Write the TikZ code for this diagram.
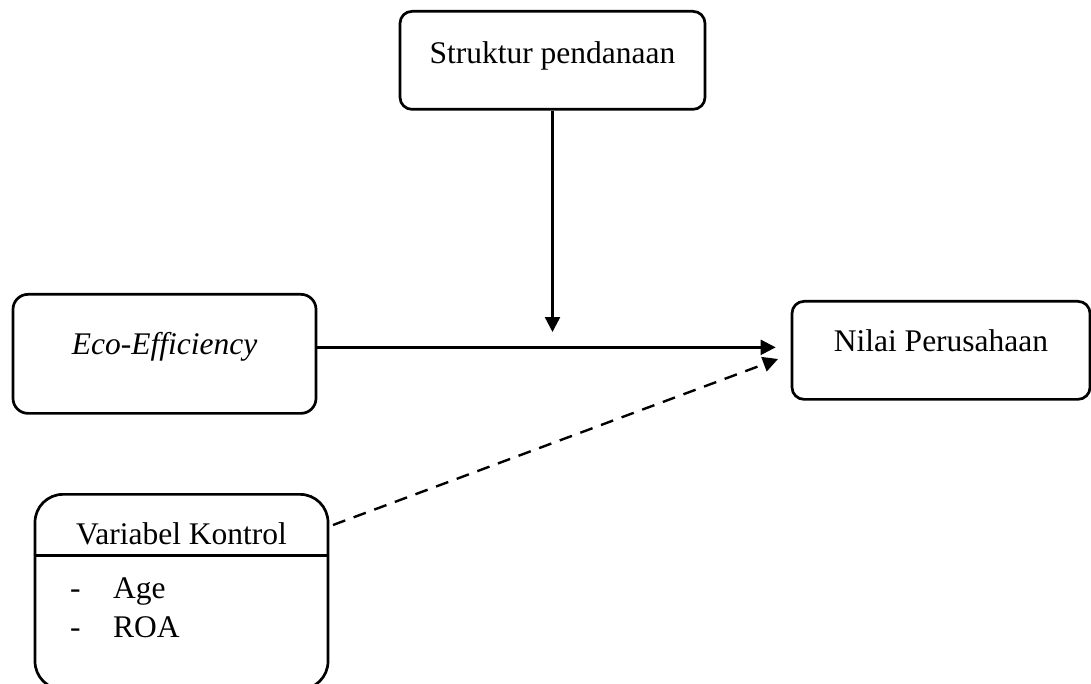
\documentclass[tikz,border=0pt]{standalone}
\usepackage{fontspec}
\setmainfont{Liberation Serif}
\usepackage{tikz}
\usetikzlibrary{arrows.meta,positioning,calc}

\begin{document}
\begin{tikzpicture}[x=1pt,y=-1pt]

	\tikzset{
	var box/.style={draw, rounded corners=12pt, line width=2.7pt, inner xsep=0pt, inner ysep=0pt,
		font=\fontsize{31.5}{39}\selectfont, anchor=north},
	item/.style={inner sep=0pt, anchor=base west, font=\fontsize{31.5}{39}\selectfont},
	link/.style={line width=2.4pt, >={Triangle[length=15pt,width=15pt]}}
}

\useasboundingbox (0,0) rectangle (1091,684);
\clip (0,0) rectangle (1091,684);

% boxes
\node[var box, minimum width=305pt, text height=52pt, text depth=46pt] (struktur) at (552.5,10) {Struktur pendanaan};
\node[var box, rounded corners=15pt, minimum width=303pt, text height=60pt, text depth=59pt] (eco) at (164.5,293) {\itshape Eco-Efficiency};
\node[var box, minimum width=298pt, text height=50pt, text depth=48pt] (nilai) at (941,300) {Nilai Perusahaan};
\node[var box, rounded corners=28pt, minimum width=293pt, text height=50pt, text depth=145pt] (kontrol) at (181.5,493) {Variabel Kontrol};
\draw[line width=2.7pt] ([yshift=-11pt]kontrol.base west) -- ([yshift=-11pt]kontrol.base east);
\node[item] (age) at (70,598) {\makebox[43pt][l]{-}Age};
\node[item] (roa) at (70,637) {\makebox[43pt][l]{-}ROA};

% arrows
\coordinate (tip) at (552.5,332);
\draw[link,->] (struktur.south) -- (tip);
\draw[link,->,shorten >=15pt] ([yshift=6.5pt]eco.east) -- ([yshift=6.5pt]eco.east -| nilai.west);
\coordinate (dstart) at (333,525);
\coordinate (dend) at (778,359);
\draw[link,->,dashed,dash pattern=on 13pt off 9pt] (dstart) -- (dend);
%\draw[link,->] (kontrol) -- (nilai);

\end{tikzpicture}
\end{document}
